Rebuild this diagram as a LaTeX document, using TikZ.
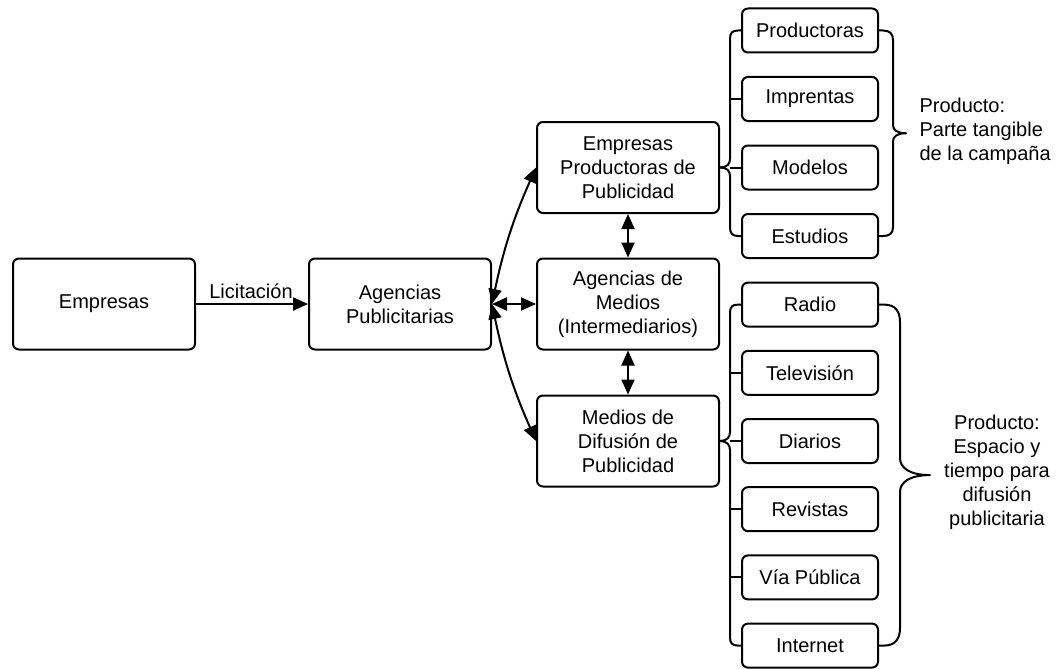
\documentclass[tikz,border=0pt]{standalone}
\usepackage{fontspec}
\setmainfont{Liberation Sans}
\usetikzlibrary{arrows.meta,calc}
\begin{document}
\begin{tikzpicture}[x=1pt,y=-1pt,
  >={Triangle[length=15pt,width=13pt]},
  txt/.style={font=\fontsize{20}{24}\selectfont},
  box/.style={draw, line width=2pt, rounded corners=6pt, fill=white, align=center, inner sep=0pt, txt},
  bigbox/.style={box, minimum width=182pt, minimum height=91pt},
  smallbox/.style={box, minimum width=136pt, minimum height=44pt},
  conn/.style={line width=2pt},
  bracestyle/.style={line width=2pt, line join=round}
]
\useasboundingbox (0,0) rectangle (1058,669);

% main boxes
\node[bigbox] (emp) at (104,304) {Empresas};
\node[bigbox] (ap) at (400,304) {Agencias\\Publicitarias};
\node[bigbox] (ep) at (628,167.5) {Empresas\\Productoras de\\Publicidad};
\node[bigbox] (am) at (628,304) {Agencias de\\Medios\\(Intermediarios)};
\node[bigbox] (md) at (628,441) {Medios de\\Difusión de\\Publicidad};

% top group
\node[smallbox] (prod) at (810,30.5) {Productoras};
\node[smallbox] (impr) at (810,99) {Imprentas};
\node[smallbox] (mod) at (810,167.5) {Modelos};
\node[smallbox] (est) at (810,236) {Estudios};

% bottom group
\node[smallbox] (radio) at (810,304.6) {Radio};
\node[smallbox] (tv) at (810,372.8) {Televisión};
\node[smallbox] (diar) at (810,441) {Diarios};
\node[smallbox] (rev) at (810,509.2) {Revistas};
\node[smallbox] (via) at (810,577.4) {Vía Pública};
\node[smallbox] (inet) at (810,645.6) {Internet};

% connectors
\draw[conn,->] (emp.east) -- (ap.west);
\node[txt] (lic) at (251,291) {Licitación};
\draw[conn,<->] (ap.east) to[bend left=6] (ep.west);
\draw[conn,<->] (ap.east) -- (am.west);
\draw[conn,<->] (ap.east) to[bend right=6] (md.west);
\draw[conn,<->] (ep.south) -- (am.north);
\draw[conn,<->] (am.south) -- (md.north);

% top left brace
\draw[bracestyle] (prod.west) -- (738,30.5) .. controls (732,30.5) and (730,33) .. (730,39) -- (730,159) .. controls (730,164) and (727,167.5) .. (ep.east);
\draw[bracestyle] (ep.east) .. controls (727,167.5) and (730,171) .. (730,176) -- (730,227) .. controls (730,233) and (732,236) .. (738,236) -- (est.west);
\draw[bracestyle] (730,99) -- (impr.west);
\draw[bracestyle] (730,167.5) -- (mod.west);

% top right brace
\coordinate (t1) at (906,133.25);
\draw[bracestyle] (prod.east) -- (883,30.5) .. controls (890,30.5) and (893,34) .. (893,40) -- (893,125) .. controls (893,130) and (897,133.25) .. (t1) .. controls (897,133.25) and (893,136.5) .. (893,141.5) -- (893,227) .. controls (893,233) and (890,236) .. (883,236) -- (est.east);

% bottom left brace
\draw[bracestyle] (radio.west) -- (738,304.6) .. controls (732,304.6) and (730,307) .. (730,313) -- (730,432) .. controls (730,437) and (727,441) .. (md.east);
\draw[bracestyle] (md.east) .. controls (727,441) and (730,445) .. (730,450) -- (730,637) .. controls (730,643) and (732,645.6) .. (738,645.6) -- (inet.west);
\draw[bracestyle] (730,372.8) -- (tv.west);
\draw[bracestyle] (730,441) -- (diar.west);
\draw[bracestyle] (730,509.2) -- (rev.west);
\draw[bracestyle] (730,577.4) -- (via.west);

% bottom right brace
\coordinate (t2) at (930,475.1);
\draw[bracestyle] (radio.east) -- (884,304.6) .. controls (895,304.6) and (900,311) .. (900,322) -- (900,458) .. controls (900,468) and (910,475.1) .. (t2) .. controls (910,475.1) and (900,482) .. (900,492) -- (900,628) .. controls (900,639) and (895,645.6) .. (884,645.6) -- (inet.east);

% labels
\node[txt, align=left, anchor=west] (lab1) at (916,131) {Producto:\\Parte tangible\\de la campaña};
\node[txt, align=center] (lab2) at (997,472) {Producto:\\Espacio y\\tiempo para\\difusión\\publicitaria};
\end{tikzpicture}
\end{document}
